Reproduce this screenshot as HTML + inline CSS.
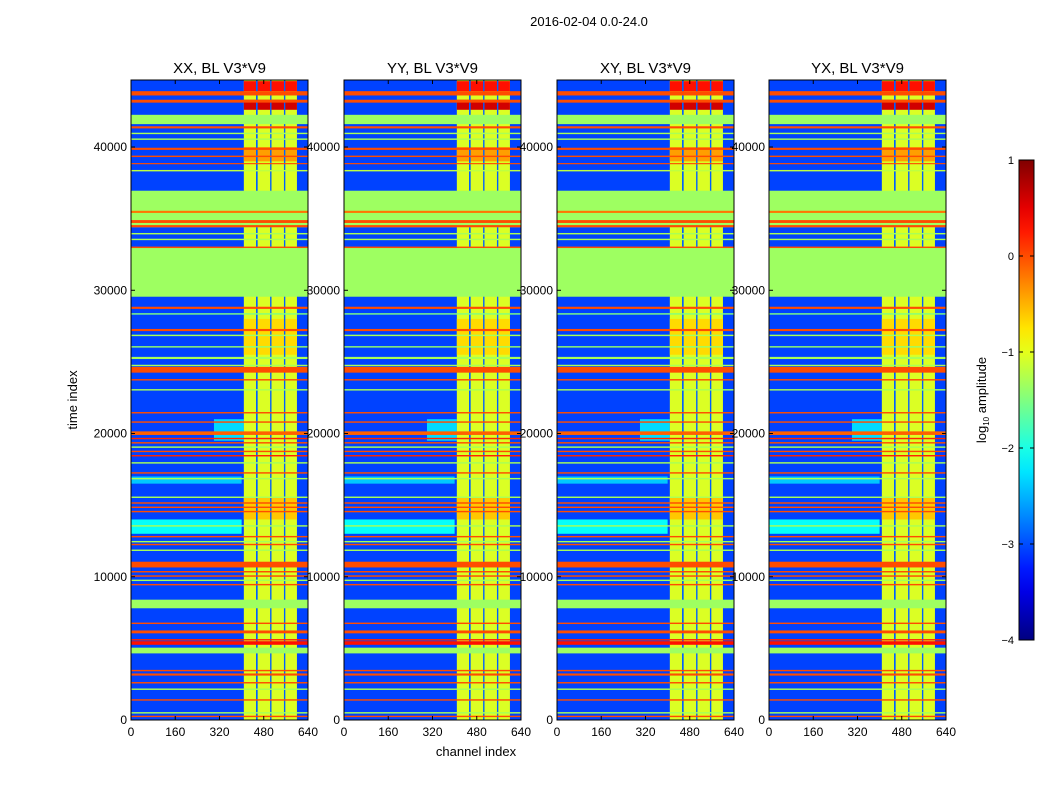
<!DOCTYPE html>
<html><head><meta charset="utf-8">
<style>
body{margin:0;background:#fff;font-family:"Liberation Sans",sans-serif;}
svg text{font-family:"Liberation Sans",sans-serif;fill:#000;}
</style></head>
<body>
<svg id="fig" width="1050" height="800" viewBox="0 0 1050 800">
<rect width="1050" height="800" fill="#fff"/>
<text x="589" y="26" font-size="13" text-anchor="middle">2016-02-04 0.0-24.0</text>
<text x="476" y="756" font-size="13" text-anchor="middle">channel index</text>
<text transform="translate(77,400) rotate(-90)" font-size="13" text-anchor="middle">time index</text>
<g id="panels"></g>
<g id="cbar"></g>
<text transform="translate(986,400) rotate(-90)" font-size="13" text-anchor="middle">log<tspan font-size="8" dy="3">10</tspan><tspan dy="-3"> amplitude</tspan></text>
</svg>
<script>
const panelTitles = ["XX, BL V3*V9","YY, BL V3*V9","XY, BL V3*V9","YX, BL V3*V9"];
const xTicks = [0,160,320,480,640];
const yTicks = [0,10000,20000,30000,40000];
const cbTicks = [1,0,-1,-2,-3,-4];
const backgroundValue = -3.05;
const bandStart = [43600,43100,41600,41300,40900,40500,39800,39300,38800,38300,34400,35400,34700,34400,33900,33500,29550,32950,28700,28300,27150,26800,26000,25200,24700,24250,23700,23000,21400,20750,19900,19600,19300,19000,18700,18400,17900,17200,16800,15500,15100,14800,14500,13500,12750,12400,12200,11800,10650,10300,10000,9700,9400,7800,6700,6050,5550,5250,4650,3400,3100,2550,2100,1350,450,200];
const bandEnd   = [43900,43300,42250,41450,41000,40600,39950,39400,38880,38400,36950,35550,34900,34550,34000,33600,32950,33050,28850,28400,27300,26900,26100,25350,24800,24650,23800,23100,21500,20850,20150,19700,19400,19100,18800,18500,18000,17300,16900,15600,15200,14900,14600,13600,12850,12500,12300,11900,11050,10400,10100,9800,9500,8400,6800,6250,5650,5500,5050,3500,3250,2650,2200,1450,550,300];
const bandValue = [0,0,-1.35,0,-1.3,-1.3,0,0,0,-1.2,-1.35,-0.2,0,0,-1.3,-1.3,-1.35,0,0,-1.5,0,-1.3,-1.4,-1.3,-1.3,0,0,-1.3,0,0,-0.1,0.2,0,-1.3,0,0.2,-1.3,0,-1.3,-1.3,0,0,0,-1.3,0,-1.3,0,-1.3,0,0,0,-1.3,0,-1.35,0,0,0.2,0.3,-1.35,0,0,0,-1.3,0,-1.3,0];
const patchC0 = [0,0,300];
const patchC1 = [400,400,408];
const patchT0 = [13000,16500,19500];
const patchT1 = [14000,17000,21000];
const patchV  = [-2.1,-2.4,-2.3];
const colChanStart = 408, colChanEnd = 600, colValue = -1.05;
const stripeStart = [452,503,553];
const stripeEnd   = [458,508,558];
const stripeValue = [-2.9,-2.9,-2.9];
const colBlockStart = [42600,43900,39000,25500,14000];
const colBlockEnd   = [43300,44600,40000,28000,15500];
const colBlockValue = [0.6,0.3,-0.4,-0.7,-0.6];

const panelLeft=[131,344,557,769], pw=177, pTop=80, pBottom=720, tMax=44680, vmin=-4, vmax=1;
function jet(v){let x=(v-vmin)/(vmax-vmin);x=Math.max(0,Math.min(1,x));
 const c=t=>Math.round(255*Math.max(0,Math.min(1,1.5-Math.abs(4*x-t))));
 return `rgb(${c(3)},${c(2)},${c(1)})`;}
const NS="http://www.w3.org/2000/svg";
function mk(tag,attrs,parent){const e=document.createElementNS(NS,tag);for(const k in attrs)e.setAttribute(k,attrs[k]);parent.appendChild(e);return e;}
const root=document.getElementById('panels');
panelTitles.forEach((title,p)=>{
 const L=panelLeft[p];
 const xs=c=>L+c/640*pw, ys=t=>pBottom-t/tMax*(pBottom-pTop);
 const g=mk('g',{},root);
 
 
 const bg=mk('rect',{x:L,y:pTop,width:pw,height:pBottom-pTop,fill:jet(backgroundValue)},g);
 
 
 for(let i=0;i<patchC0.length;i++){
  const r=mk('rect',{x:xs(patchC0[i]),y:ys(patchT1[i]),width:xs(patchC1[i])-xs(patchC0[i]),height:ys(patchT0[i])-ys(patchT1[i]),fill:jet(patchV[i])},g);
  
  
 }
 const col=mk('rect',{x:xs(colChanStart),y:pTop,width:xs(colChanEnd)-xs(colChanStart),height:pBottom-pTop,fill:jet(colValue)},g);
 
 
 for(let i=0;i<colBlockStart.length;i++){
  const r=mk('rect',{x:xs(colChanStart),y:ys(colBlockEnd[i]),width:xs(colChanEnd)-xs(colChanStart),height:ys(colBlockStart[i])-ys(colBlockEnd[i]),fill:jet(colBlockValue[i])},g);
  
  
 }
 for(let i=0;i<stripeStart.length;i++){
  const r=mk('rect',{x:xs(stripeStart[i]),y:pTop,width:xs(stripeEnd[i])-xs(stripeStart[i]),height:pBottom-pTop,fill:jet(stripeValue[i])},g);
  
  
 }
 for(let i=0;i<bandStart.length;i++){
  const y0=ys(bandEnd[i]),y1=ys(bandStart[i]);
  const r=mk('rect',{x:L,y:y0,width:pw,height:Math.max(1,y1-y0),fill:jet(bandValue[i])},g);
  
  
 }
 const fr=mk('rect',{x:L,y:pTop,width:pw,height:pBottom-pTop,fill:'none',stroke:'#000','stroke-width':1},g);
 
 
 const tt=mk('text',{x:L+pw/2,y:pTop-7,'font-size':15,'text-anchor':'middle'},g);tt.textContent=title;
 
 
 xTicks.forEach(v=>{const x=xs(v);
  mk('line',{x1:x,x2:x,y1:pBottom,y2:pBottom-4,stroke:'#000'},g);
  mk('line',{x1:x,x2:x,y1:pTop,y2:pTop+4,stroke:'#000'},g);
  const t=mk('text',{x:x,y:pBottom+16,'font-size':12,'text-anchor':'middle'},g);t.textContent=v;
  
  
 });
 yTicks.forEach(v=>{const y=ys(v);
  mk('line',{x1:L,x2:L+4,y1:y,y2:y,stroke:'#000'},g);
  mk('line',{x1:L+pw,x2:L+pw-4,y1:y,y2:y,stroke:'#000'},g);
  const t=mk('text',{x:L-4,y:y+4,'font-size':12,'text-anchor':'end'},g);t.textContent=v;
  
  
 });
});
const cb=document.getElementById('cbar');
const cbx=1019,cbw=15,cbt=160,cbb=640;
const defs=mk('defs',{},cb);
const grad=mk('linearGradient',{id:'jetg',x1:0,y1:1,x2:0,y2:0},defs);
for(let i=0;i<=20;i++){mk('stop',{offset:i/20,'stop-color':jet(vmin+(vmax-vmin)*i/20)},grad);}
mk('rect',{x:cbx,y:cbt,width:cbw,height:cbb-cbt,fill:'url(#jetg)',stroke:'#000'},cb);
cbTicks.forEach(v=>{const y=cbb-(v-vmin)/(vmax-vmin)*(cbb-cbt);
 mk('line',{x1:cbx,x2:cbx+4,y1:y,y2:y,stroke:'#000'},cb);
 mk('line',{x1:cbx+cbw,x2:cbx+cbw-4,y1:y,y2:y,stroke:'#000'},cb);
 const t=mk('text',{x:cbx-5,y:y+4,'font-size':11,'text-anchor':'end'},cb);t.textContent=(v<0?'\u2212'+(-v):v);
 
 
});
</script>
</body></html>
